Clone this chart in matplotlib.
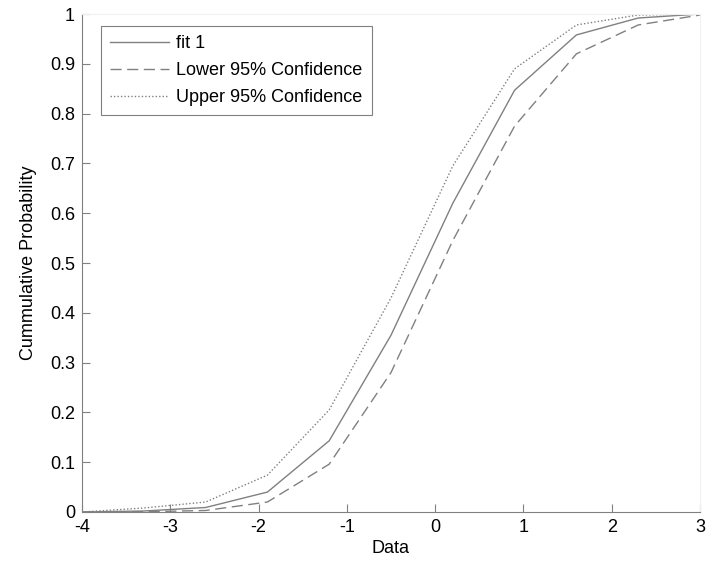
import numpy as np
import matplotlib.pyplot as plt

plt.rcParams['font.family'] = ['Liberation Sans', 'DejaVu Sans']
plt.rcParams['axes.unicode_minus'] = False

# data
x = [-4.0, -3.3, -2.6, -1.9, -1.2, -0.5, 0.2, 0.9, 1.6, 2.3, 3.0]
fit = [0.0, 0.002, 0.009, 0.040, 0.143, 0.355, 0.620, 0.847, 0.958, 0.992, 1.0]
lower = [0.0, 0.0005, 0.003, 0.020, 0.096, 0.280, 0.545, 0.775, 0.920, 0.978, 0.998]
upper = [0.0, 0.008, 0.020, 0.074, 0.205, 0.430, 0.695, 0.890, 0.978, 0.998, 1.0]
labels = ['fit 1', 'Lower 95% Confidence', 'Upper 95% Confidence']

fs = 13

fig = plt.figure(figsize=(7.23, 5.63), dpi=100)
ax = fig.add_axes([0.1134, 0.0906, 0.8548, 0.8845])

ax.plot(x, fit, color='#808080', lw=1.0, ls='-', label=labels[0])
ax.plot(x, lower, color='#808080', lw=1.0, ls=(0, (8, 4)), label=labels[1])
ax.plot(x, upper, color='#808080', lw=1.0, ls=(0, (1, 1.5)), label=labels[2])

ax.set_xlim(-4, 3)
ax.set_ylim(0, 1)
ax.set_xticks(np.arange(-4, 4, 1))
ax.set_yticks(np.arange(0, 1.01, 0.1))
ax.set_yticklabels(['0', '0.1', '0.2', '0.3', '0.4', '0.5', '0.6', '0.7', '0.8', '0.9', '1'])
ax.tick_params(direction='in', length=6, width=0.8, color='#808080', labelsize=fs, pad=5)

for s in ['left', 'bottom']:
    ax.spines[s].set_color('#808080')
for s in ['top', 'right']:
    ax.spines[s].set_color('#f0f0f0')

ax.set_xlabel('Data', fontsize=fs, labelpad=3)
ax.set_ylabel('Cummulative Probability', fontsize=fs, labelpad=9)

leg = ax.legend(loc='upper left', bbox_to_anchor=(0.03, 0.975), fontsize=fs,
                handlelength=3.3, fancybox=False, framealpha=1, borderpad=0.5,
                labelspacing=0.55, handletextpad=0.4, borderaxespad=0)
leg.get_frame().set_edgecolor('#808080')
leg.get_frame().set_linewidth(0.8)

fig.savefig('out.png', dpi=100)
